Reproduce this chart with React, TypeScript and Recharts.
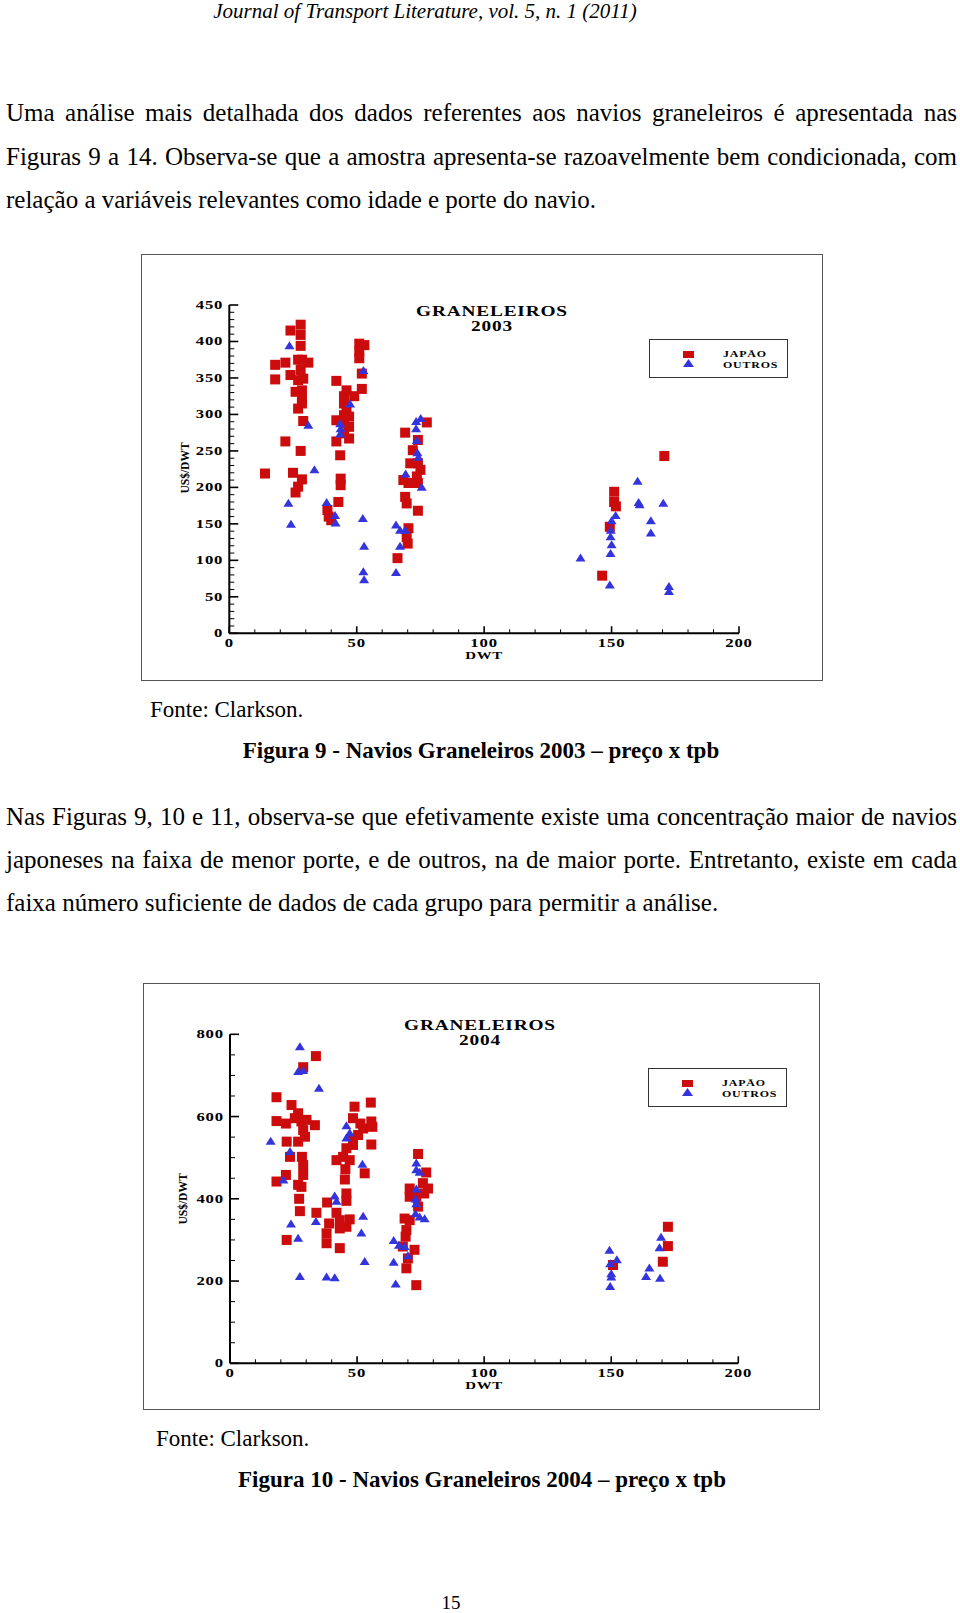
import { ScatterChart, Scatter, XAxis, YAxis } from "recharts";

const RED = "#cc0c0c";
const BLUE = "#3434dc";
const SERIF = '"Liberation Serif", "Times New Roman", serif';

// [DWT (mil t), US$/DWT]
const japao2003: [number, number][] = [
  [14, 219], [18, 368], [18, 348], [22, 371], [24, 415], [28, 423], [28, 409], [28, 394],
  [24, 354], [27, 375], [28.5, 375], [31, 371], [28, 361], [29, 349], [27, 347], [26, 331],
  [28.5, 333], [28.5, 320], [28.5, 315], [27, 308], [29, 291], [22, 263], [28, 250], [25, 220],
  [28.5, 211], [27, 201], [26, 193],
  [42, 346], [51, 397], [53, 395], [51, 386], [51, 377], [52, 356], [52, 335], [42, 292],
  [46, 333], [49, 325], [45, 325], [45, 315], [46, 308], [45, 299], [47, 297], [45, 288],
  [47, 283], [45, 274], [47, 267], [42, 263], [43.5, 244], [43.7, 212], [43.7, 203], [42.8, 180],
  [38.5, 169], [39, 160], [40, 155],
  [69, 275], [77.5, 289], [72, 251], [74, 265], [71, 233], [74, 233], [75, 224], [73.6, 215],
  [70.3, 206], [68.3, 210], [74, 206], [69, 187], [69.6, 178], [74, 168], [70.3, 144], [69.6, 132],
  [70, 123], [66, 103],
  [170.7, 243], [151, 194], [151, 180], [151.7, 174], [149.3, 146], [146.3, 79],
];

const outros2003: [number, number][] = [
  [23.6, 395], [31, 286], [33.4, 225], [23.2, 179], [24.2, 150], [38.2, 180], [41.5, 162], [41.7, 152],
  [43.5, 288], [43.7, 281], [43.5, 274], [47.4, 315], [52.6, 361], [52.4, 158], [52.9, 120], [52.6, 85],
  [52.9, 74], [73.3, 291], [75.1, 295], [73.3, 281], [73.6, 265], [73.8, 248], [74.2, 242], [75.5, 201],
  [69.2, 219], [65.4, 149], [67, 142], [69, 142], [67, 120], [65.4, 84],
  [160.2, 209], [160.6, 180], [161, 177], [170.3, 179], [165.4, 155], [165.4, 138], [151.6, 162],
  [150, 155], [149.7, 142], [149.6, 133], [150, 122], [149.6, 110], [137.8, 104], [149.3, 67],
  [172.5, 65], [172.5, 58],
];

const japao2004: [number, number][] = [
  [18.3, 647], [18.3, 442], [18.3, 589], [22, 583], [24.2, 628], [22.3, 539], [22, 458], [22.3, 300],
  [26.8, 608], [25.5, 596], [28.8, 720], [33.8, 747], [28.1, 588], [30.1, 592], [33.4, 579], [26.8, 539],
  [28.8, 567], [29.5, 551], [23.6, 502], [28.3, 502], [28.8, 482], [28.8, 458], [26.8, 434], [28.1, 429],
  [27.2, 400], [27.5, 370], [34, 366],
  [49, 624], [55.4, 634], [48.4, 596], [51.3, 583], [55.6, 588], [56, 575], [52.4, 571], [50.4, 555],
  [48.4, 543], [48.4, 531], [55.6, 532], [45.8, 523], [53, 462], [41.9, 494], [44.5, 502], [47.1, 494],
  [45.4, 472], [45.2, 447], [45.8, 413], [45.8, 395], [38.2, 391], [41.9, 366], [39, 340], [38, 316],
  [43.2, 348], [47.1, 350], [43.2, 328], [45.8, 332], [38, 292], [43.2, 280],
  [74, 509], [70.7, 425], [77.2, 464], [77.9, 425], [75.9, 438], [76.4, 413], [73.3, 405], [70.7, 405],
  [74, 381], [68.7, 352], [70.7, 348], [69.4, 324], [69.1, 308], [68, 284], [72.6, 276], [70, 255],
  [69.4, 231], [73.3, 190],
  [172.3, 332], [172.3, 285], [170.3, 247], [150.7, 239],
];

const outros2004: [number, number][] = [
  [27.5, 771], [26.8, 711], [28.8, 713], [35, 670], [16, 541], [21, 447], [23.6, 516], [24, 340],
  [26.8, 305], [27.5, 212], [33.8, 346], [45.8, 579], [45.8, 549], [47.1, 561], [52.1, 485], [41.2, 408],
  [41.9, 395], [52.4, 359], [51.7, 318], [53, 249], [38, 211], [41.2, 209],
  [73.3, 488], [73.3, 472], [74.6, 466], [73.3, 425], [73, 401], [73.3, 389], [73, 365], [74.6, 357],
  [76.6, 353], [64.4, 300], [66.5, 288], [68.7, 285], [70, 263], [64.4, 247], [65.2, 194],
  [149.3, 276], [152.2, 253], [150, 219], [150, 211], [149.6, 188], [169.6, 308], [169, 282],
  [165, 233], [163.7, 212], [169.2, 208], [149.6, 243],
];

const X_MAJOR = [0, 50, 100, 150, 200];
const Y_MAJOR_2003 = [0, 50, 100, 150, 200, 250, 300, 350, 400, 450];
const Y_MAJOR_2004 = [0, 200, 400, 600, 800];

function steps(max: number, step: number) {
  const out: number[] = [];
  for (let v = 0; v <= max + 1e-9; v += step) out.push(v);
  return out;
}

const tickFont = { fontFamily: SERIF, fontWeight: 700, fontSize: 11.5, letterSpacing: 0.6 };
const legendFont = { fontFamily: SERIF, fontWeight: 700, fontSize: 8.5, letterSpacing: 0.6 };

function Square(p: any) {
  return <rect x={p.cx - 5} y={p.cy - 5} width={10} height={10} fill={RED} />;
}

function Triangle(p: any) {
  const { cx, cy } = p;
  return <polygon points={`${cx - 5},${cy + 4} ${cx + 5},${cy + 4} ${cx},${cy - 4}`} fill={BLUE} />;
}

interface ChartProps {
  year: string;
  japao: [number, number][];
  outros: [number, number][];
  yMax: number;
  yMajor: number[];
  yStep: number;
  width: number;
  height: number;
  margin: { top: number; right: number; bottom: number; left: number };
  titleX: number;
  titleY: number;
  legendX: number;
  legendY: number;
  yLabelX: number;
  yLabelY: number;
  dwtX: number;
  dwtY: number;
}

function GraneleirosChart(c: ChartProps) {
  const xTicks = steps(200, 10);
  const yTicks = steps(c.yMax, c.yStep);

  const xTick = (p: any) => {
    const v = p.payload.value;
    const major = X_MAJOR.includes(v);
    return (
      <g>
        <line x1={p.x} x2={p.x} y1={p.y} y2={p.y - (major ? 7 : 4)} stroke="#000" strokeWidth={major ? 1.6 : 1} />
        {major && (
          <text transform={`translate(${p.x},${p.y + 13.5}) scale(1.45,1)`} textAnchor="middle" fill="#000" style={tickFont}>
            {v}
          </text>
        )}
      </g>
    );
  };

  const yTick = (p: any) => {
    const v = p.payload.value;
    const major = c.yMajor.includes(v);
    return (
      <g>
        <line x1={p.x} x2={p.x + (major ? 9 : 5)} y1={p.y} y2={p.y} stroke="#000" strokeWidth={major ? 1.6 : 1} />
        {major && (
          <text transform={`translate(${p.x - 6},${p.y + 4}) scale(1.45,1)`} textAnchor="end" fill="#000" style={tickFont}>
            {v}
          </text>
        )}
      </g>
    );
  };

  return (
    <div style={{ position: "relative", width: c.width, height: c.height }}>
      <ScatterChart width={c.width} height={c.height} margin={c.margin}>
        <XAxis
          type="number" dataKey="x" domain={[0, 200]} ticks={xTicks} interval={0}
          tickSize={0} tickMargin={0} height={30} allowDataOverflow
          axisLine={{ stroke: "#000", strokeWidth: 2 }} tick={xTick}
        />
        <YAxis
          type="number" dataKey="y" domain={[0, c.yMax]} ticks={yTicks} interval={0}
          tickSize={0} tickMargin={0} width={40} allowDataOverflow
          axisLine={{ stroke: "#000", strokeWidth: 2 }} tick={yTick}
        />
        <Scatter
          name="JAPÃO" data={c.japao.map(([x, y]) => ({ x, y }))}
          shape={Square} isAnimationActive={false}
        />
        <Scatter
          name="OUTROS" data={c.outros.map(([x, y]) => ({ x, y }))}
          shape={Triangle} isAnimationActive={false}
        />
      </ScatterChart>

      <div
        style={{
          position: "absolute", left: c.titleX - 100, top: c.titleY - 8, width: 200,
          textAlign: "center", fontFamily: SERIF, fontWeight: 700, fontSize: 14,
          letterSpacing: 0.6, lineHeight: "15px", transform: "scaleX(1.38)",
        }}
      >
        GRANELEIROS
        <br />
        {c.year}
      </div>

      <svg style={{ position: "absolute", left: c.legendX, top: c.legendY }} width={139} height={39}>
        <rect x={0.5} y={0.5} width={138} height={38} fill="#fff" stroke="#333" strokeWidth={1} />
        <rect x={34} y={12} width={11} height={7} fill={RED} />
        <polygon points="34,28 45,28 39.5,20" fill={BLUE} />
        <text transform="translate(74,18) scale(1.4,1)" fill="#000" style={legendFont}>
          JAPÃO
        </text>
        <text transform="translate(74,29) scale(1.4,1)" fill="#000" style={legendFont}>
          OUTROS
        </text>
      </svg>

      <div
        style={{
          position: "absolute", left: c.yLabelX - 40, top: c.yLabelY - 8, width: 80, height: 16,
          transform: "rotate(-90deg)", textAlign: "center", fontFamily: SERIF, fontWeight: 700,
          fontSize: 11.5, lineHeight: "16px",
        }}
      >
        US$/DWT
      </div>

      <div
        style={{
          position: "absolute", left: c.dwtX - 30, top: c.dwtY - 7, width: 60,
          textAlign: "center", fontFamily: SERIF, fontWeight: 700, fontSize: 11,
          letterSpacing: 0.5, lineHeight: "14px", transform: "scaleX(1.35)",
        }}
      >
        DWT
      </div>
    </div>
  );
}

const BODY = { fontFamily: SERIF, fontSize: 23, color: "#000" };

function Line({ text, y, justify }: { text: string; y: number; justify?: boolean }) {
  return (
    <div
      style={{
        ...BODY, fontSize: 25, position: "absolute", left: 6, top: y - 16, width: 951, height: 32,
        lineHeight: "32px", whiteSpace: "nowrap",
        textAlign: justify ? "justify" : "left",
        textAlignLast: justify ? "justify" : "left",
      }}
    >
      {text}
    </div>
  );
}

export default function App() {
  return (
    <div style={{ position: "absolute", left: 0, top: 0, width: 960, height: 1613, background: "#fff" }}>
      <div
        style={{
          position: "absolute", left: 0, top: -1, width: 850, height: 24, lineHeight: "24px",
          textAlign: "center", fontFamily: SERIF, fontStyle: "italic", fontSize: 21,
        }}
      >
        Journal of Transport Literature, vol. 5, n. 1 (2011)
      </div>

      <Line y={113} justify text="Uma análise mais detalhada dos dados referentes aos navios graneleiros é apresentada nas" />
      <Line y={157} justify text="Figuras 9 a 14. Observa-se que a amostra apresenta-se razoavelmente bem condicionada, com" />
      <Line y={200} text="relação a variáveis relevantes como idade e porte do navio." />

      <div
        style={{
          position: "absolute", left: 141, top: 254, width: 682, height: 427,
          border: "1px solid #555", boxSizing: "border-box", background: "#fff",
        }}
      >
        <GraneleirosChart
          year="2003" japao={japao2003} outros={outros2003}
          yMax={450} yMajor={Y_MAJOR_2003} yStep={10}
          width={680} height={425}
          margin={{ top: 50, right: 83, bottom: 16.7, left: 47.3 }}
          titleX={350} titleY={57} legendX={507} legendY={84}
          yLabelX={43} yLabelY={213} dwtX={342} dwtY={400}
        />
      </div>

      <div style={{ ...BODY, position: "absolute", left: 150, top: 695, lineHeight: "30px" }}>Fonte: Clarkson.</div>
      <div style={{ ...BODY, position: "absolute", left: 0, top: 736, width: 962, textAlign: "center", fontWeight: 700, fontSize: 23, lineHeight: "30px" }}>
        Figura 9 - Navios Graneleiros 2003 – preço x tpb
      </div>

      <Line y={817} justify text="Nas Figuras 9, 10 e 11, observa-se que efetivamente existe uma concentração maior de navios" />
      <Line y={860} justify text="japoneses na faixa de menor porte, e de outros, na de maior porte. Entretanto, existe em cada" />
      <Line y={903} text="faixa número suficiente de dados de cada grupo para permitir a análise." />

      <div
        style={{
          position: "absolute", left: 143, top: 983, width: 677, height: 427,
          border: "1px solid #555", boxSizing: "border-box", background: "#fff",
        }}
      >
        <GraneleirosChart
          year="2004" japao={japao2004} outros={outros2004}
          yMax={800} yMajor={Y_MAJOR_2004} yStep={50}
          width={675} height={425}
          margin={{ top: 50.3, right: 80.7, bottom: 15.7, left: 46 }}
          titleX={336} titleY={42} legendX={504} legendY={84}
          yLabelX={39} yLabelY={215} dwtX={340} dwtY={401}
        />
      </div>

      <div style={{ ...BODY, position: "absolute", left: 156, top: 1424, lineHeight: "30px" }}>Fonte: Clarkson.</div>
      <div style={{ ...BODY, position: "absolute", left: 0, top: 1465, width: 964, textAlign: "center", fontWeight: 700, fontSize: 23, lineHeight: "30px" }}>
        Figura 10 - Navios Graneleiros 2004 – preço x tpb
      </div>

      <div style={{ ...BODY, position: "absolute", left: 0, top: 1590, width: 902, textAlign: "center", fontSize: 19, lineHeight: "26px" }}>
        15
      </div>
    </div>
  );
}
